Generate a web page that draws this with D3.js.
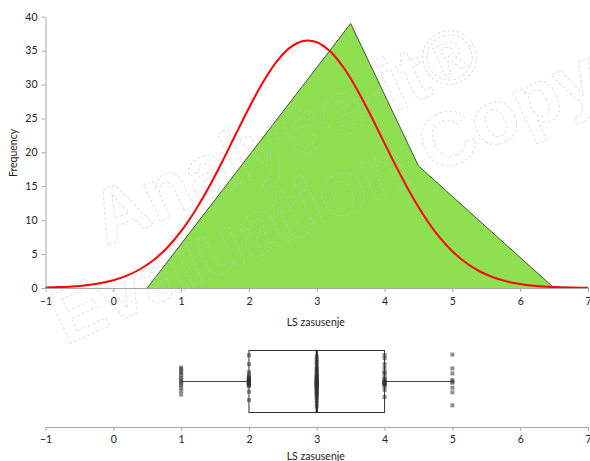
<!DOCTYPE html>
<html>
<head>
<meta charset="utf-8">
<script src="https://cdn.jsdelivr.net/npm/d3@7"></script>
<style>
  html, body { margin: 0; padding: 0; background: #fff; }
  svg { display: block; }
  text { font-family: Lato, "Open Sans", sans-serif; fill: #222; }
</style>
</head>
<body>
<svg id="chart" width="590" height="461"></svg>
<script>
// ---- data ----
const xTicks = [-1, 0, 1, 2, 3, 4, 5, 6, 7];
const yTicks = [0, 5, 10, 15, 20, 25, 30, 35, 40];
const xLabel = "LS zasusenje";
const yLabel = "Frequency";

// frequency polygon (bin midpoints / frequencies)
const polyX = [0.5, 1.5, 2.5, 3.5, 4.5, 5.5, 6.5];
const polyFreq = [0, 13, 26, 39, 18, 9, 0];

// fitted normal curve
const curveX = [-1, -0.8, -0.6, -0.4, -0.2, 0, 0.2, 0.4, 0.6, 0.8, 1, 1.2, 1.4, 1.6, 1.8, 2, 2.2, 2.4, 2.6, 2.8,
                3, 3.2, 3.4, 3.6, 3.8, 4, 4.2, 4.4, 4.6, 4.8, 5, 5.2, 5.4, 5.6, 5.8, 6, 6.2, 6.4, 6.6, 6.8, 7];
const curveY = [0.07, 0.13, 0.23, 0.41, 0.69, 1.14, 1.82, 2.80, 4.17, 6.01, 8.38, 11.29, 14.70, 18.51, 22.55, 26.54,
                30.22, 33.26, 35.40, 36.42, 36.24, 34.86, 32.43, 29.17, 25.36, 21.33, 17.34, 13.63, 10.36, 7.61,
                5.41, 3.72, 2.47, 1.59, 0.98, 0.59, 0.34, 0.19, 0.10, 0.06, 0.03];

// box plot: min, Q1, median, Q3, max
const boxStats = [1, 2, 3, 4, 5];
// observed values and their vertical jitter (fraction of half box height)
const dotValues = [1, 2, 3, 4, 5];
const jitter1 = [-0.45, -0.4, -0.33, -0.27, -0.2, -0.12, -0.06, 0, 0.05, 0.12, 0.2, 0.3, 0.42];
const jitter2 = [-0.85, -0.56, -0.3, -0.22, -0.12, -0.08, -0.04, -0.02, 0, 0.02, 0.04, 0.06, 0.08, -0.06, 0.1, -0.1,
                 0.0, 0.03, -0.03, 0.12, 0.33, 0.6, -0.15, 0.15, 0.01, -0.01];
const jitter3 = [-0.8, -0.7, -0.62, -0.55, -0.45, -0.4, -0.35, -0.3, -0.25, -0.2, -0.17, -0.14, -0.11, -0.08, -0.06,
                 -0.04, -0.02, 0, 0.02, 0.04, 0.06, 0.08, 0.1, 0.12, 0.14, 0.16, 0.18, 0.2, 0.23, 0.26, 0.3, 0.34,
                 0.38, 0.42, 0.47, 0.52, 0.6, 0.7, 0.81];
const jitter4 = [-0.85, -0.75, -0.56, -0.43, -0.3, -0.27, -0.15, -0.08, -0.04, 0, 0.02, 0.04, 0.06, 0.08, 0.1, 0.15,
                 0.27, 0.5];
const jitter5 = [-0.87, -0.42, -0.26, -0.05, 0, 0.04, 0.2, 0.35, 0.77];

// ---- drawing ----
const svg = d3.select("#chart");
const axisColor = "#a6a6a6";

const x = d3.scaleLinear().domain([-1, 7]).range([45.5, 588]);
const y = d3.scaleLinear().domain([0, 40]).range([288, 16.7]);

// frequency polygon
const polyData = polyX.map((v, i) => [v, polyFreq[i]]);
svg.append("path")
  .datum(polyData)
  .attr("d", d3.area().x(d => x(d[0])).y0(y(0)).y1(d => y(d[1])))
  .attr("fill", "#8ee050");
svg.append("path")
  .datum(polyData)
  .attr("d", d3.line().x(d => x(d[0])).y(d => y(d[1])))
  .attr("fill", "none")
  .attr("stroke", "#3a3a3a")
  .attr("stroke-width", 0.9);

// watermark
const wm = svg.append("g").attr("pointer-events", "none");
function watermark(tx, ty, str) {
  wm.append("text")
    .attr("transform", `translate(${tx},${ty}) rotate(-25)`)
    .attr("text-anchor", "middle")
    .style("font-family", "'Liberation Sans', Arial, sans-serif")
    .style("font-weight", "bold")
    .style("font-size", "76px")
    .style("fill", "none")
    .style("stroke", "#c8c8c8")
    .style("stroke-opacity", 0.5)
    .style("stroke-width", 1)
    .style("stroke-dasharray", "3,2")
    .text(str);
}
watermark(296, 158, "Analyse-it\u00AE");
watermark(336, 220, "Evaluation Copy");

// normal curve
svg.append("path")
  .datum(curveX.map((v, i) => [v, curveY[i]]))
  .attr("d", d3.line().curve(d3.curveCatmullRom).x(d => x(d[0])).y(d => y(d[1])))
  .attr("fill", "none")
  .attr("stroke", "#ff0000")
  .attr("stroke-width", 2);

// axes (top chart)
function styleAxis(g) {
  g.selectAll("path.domain").attr("stroke", axisColor);
  g.selectAll(".tick line").attr("stroke", axisColor);
  g.selectAll(".tick text").style("font-family", "Lato, 'Open Sans', sans-serif").style("font-size", "10.5px").attr("fill", "#222");
}
const xAxisTop = svg.append("g")
  .attr("transform", `translate(0,${y(0)})`)
  .call(d3.axisBottom(x).tickValues(xTicks).tickFormat(d3.format("d")).tickSize(4).tickSizeOuter(0).tickPadding(6));
styleAxis(xAxisTop);

const yAxis = svg.append("g")
  .attr("transform", `translate(${x(-1)},0)`)
  .call(d3.axisLeft(y).tickValues(yTicks).tickSize(4).tickSizeOuter(0).tickPadding(4));
styleAxis(yAxis);

svg.append("text")
  .attr("x", (x(-1) + x(7)) / 2 - 1)
  .attr("y", 326)
  .attr("text-anchor", "middle")
  .style("font-size", "10.5px")
  .text(xLabel);
svg.append("text")
  .attr("transform", `translate(17,153) rotate(-90)`)
  .attr("text-anchor", "middle")
  .style("font-size", "10.5px")
  .text(yLabel);

// ---- box plot ----
const cy = 381.5, half = 31;
const bg = svg.append("g");
// whiskers
bg.append("line")
  .attr("x1", x(boxStats[0])).attr("x2", x(boxStats[1]))
  .attr("y1", cy).attr("y2", cy)
  .attr("stroke", "#444").attr("stroke-width", 1);
bg.append("line")
  .attr("x1", x(boxStats[3])).attr("x2", x(boxStats[4]))
  .attr("y1", cy).attr("y2", cy)
  .attr("stroke", "#444").attr("stroke-width", 1);
// box
bg.append("rect")
  .attr("x", x(boxStats[1])).attr("y", cy - half)
  .attr("width", x(boxStats[3]) - x(boxStats[1])).attr("height", 2 * half)
  .attr("fill", "none").attr("stroke", "#333").attr("stroke-width", 1);
bg.append("line")
  .attr("x1", x(boxStats[2])).attr("x2", x(boxStats[2]))
  .attr("y1", cy - half).attr("y2", cy + half)
  .attr("stroke", "#111").attr("stroke-width", 2);

// dots
const jitters = [jitter1, jitter2, jitter3, jitter4, jitter5];
const dots = [];
dotValues.forEach((v, i) => jitters[i].forEach(j => dots.push([v, j])));
bg.selectAll("rect.dot").data(dots).enter().append("rect")
  .attr("class", "dot")
  .attr("x", d => x(d[0]) - 2)
  .attr("y", d => cy + d[1] * half - 2)
  .attr("width", 4).attr("height", 4)
  .attr("fill", "#333").attr("fill-opacity", 0.55);

// bottom axis
const xAxisBottom = svg.append("g")
  .attr("transform", "translate(0,427)")
  .call(d3.axisBottom(x).tickValues(xTicks).tickFormat(d3.format("d")).tickSize(4).tickSizeOuter(0).tickPadding(5));
styleAxis(xAxisBottom);

svg.append("text")
  .attr("x", (x(-1) + x(7)) / 2 - 1)
  .attr("y", 460)
  .attr("text-anchor", "middle")
  .style("font-size", "10.5px")
  .text(xLabel);
</script>
</body>
</html>
